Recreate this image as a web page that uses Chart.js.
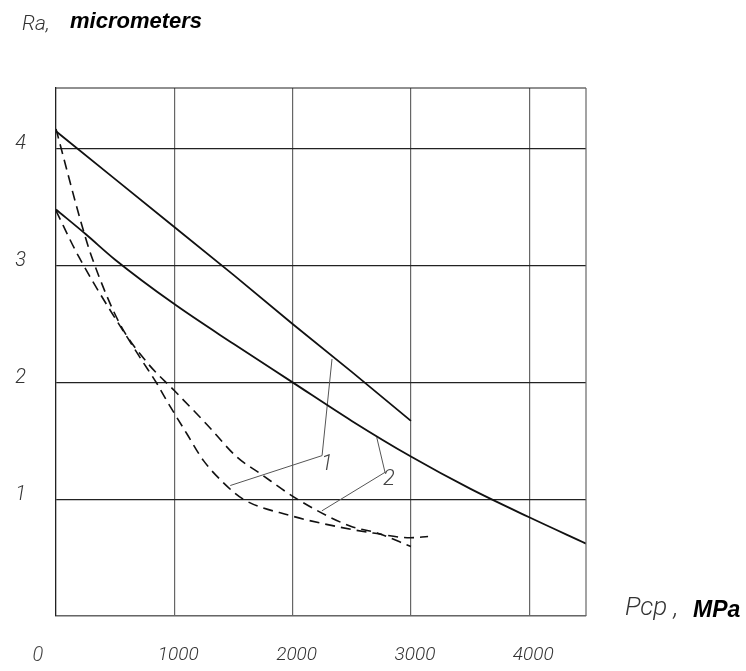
<!DOCTYPE html>
<html><head><meta charset="utf-8">
<script src="https://cdn.jsdelivr.net/npm/chart.js@4"></script>
<style>html,body{margin:0;padding:0;background:#fff}</style>
</head><body>
<canvas id="c" width="746" height="671"></canvas>
<script>
// ---- data ----
const xTickValues = [0, 1000, 2000, 3000, 4000];
const yTickValues = [1, 2, 3, 4];
const xMax = 4480, yMax = 4.52;

const solid1X = [0, 500, 1000, 1500, 2000, 2500, 3000];
const solid1Y = [4.15, 3.74, 3.33, 2.92, 2.50, 2.09, 1.67];

const solid2X = [0, 250, 500, 1000, 1500, 2000, 2500, 3000, 3500, 4000, 4480];
const solid2Y = [3.48, 3.27, 3.05, 2.67, 2.33, 2.00, 1.67, 1.365, 1.09, 0.845, 0.62];

const dash1X = [0, 220, 300, 540, 770, 1000, 1275, 1530, 1725, 2040, 2485, 2715, 3000];
const dash1Y = [4.17, 3.34, 3.08, 2.50, 2.17, 1.93, 1.64, 1.36, 1.22, 1.00, 0.77, 0.71, 0.595];

const dash2X = [0, 190, 712, 853, 938, 1106, 1247, 1416, 1582, 1980, 2402, 2681, 2993, 3145];
const dash2Y = [3.47, 3.08, 2.21, 1.99, 1.84, 1.56, 1.33, 1.14, 1.00, 0.86, 0.76, 0.71, 0.67, 0.68];

const leader1X = [2333, 2249, 1473];
const leader1Y = [2.20, 1.373, 1.117];
const leader2X = [2711, 2781, 2247];
const leader2Y = [1.53, 1.23, 0.90];

const curveLabels = ['1', '2'];
const curveLabelX = [2291, 2815];
const curveLabelY = [1.30, 1.172];

const yTitleParts = ['Ra,', 'micrometers'];
const xTitleParts = ['Pcp ,', 'MPa'];
const originLabel = '0';

// ---- helpers ----
const pts = (xs, ys) => xs.map((x, i) => ({x: x, y: ys[i]}));
const thinFamily = "Roboto,'DejaVu Sans Condensed',sans-serif";
const boldFamily = "'Liberation Sans',Arial,sans-serif";

const decor = {
  id: 'decor',
  afterDraw(chart) {
    const ctx = chart.ctx, a = chart.chartArea;
    const xs = chart.scales.x, ys = chart.scales.y;
    ctx.save();
    // top and right frame edges
    ctx.lineWidth = 1.2;
    ctx.strokeStyle = '#222';
    ctx.beginPath();
    ctx.moveTo(a.left, a.top); ctx.lineTo(a.right, a.top);
    ctx.stroke();
    ctx.strokeStyle = '#666';
    ctx.beginPath();
    ctx.moveTo(a.right, a.top); ctx.lineTo(a.right, a.bottom);
    ctx.stroke();

    // curve number labels
    ctx.fillStyle = '#444';
    ctx.font = "italic 300 22px " + thinFamily;
    ctx.textAlign = 'center';
    ctx.textBaseline = 'middle';
    curveLabels.forEach((t, i) => {
      ctx.fillText(t, xs.getPixelForValue(curveLabelX[i]), ys.getPixelForValue(curveLabelY[i]));
    });

    // origin label
    ctx.font = "italic 300 20px " + thinFamily;
    ctx.fillText(originLabel, xs.getPixelForValue(0) - 18, a.bottom + 40);

    // y axis title
    ctx.textAlign = 'left';
    ctx.textBaseline = 'alphabetic';
    ctx.fillStyle = '#333';
    ctx.font = "italic 300 21px " + thinFamily;
    ctx.fillText(yTitleParts[0], a.left - 34, a.top - 58);
    ctx.fillStyle = '#000';
    ctx.font = "italic bold 22px " + boldFamily;
    ctx.fillText(yTitleParts[1], a.left + 14, a.top - 60);

    // x axis title
    ctx.fillStyle = '#333';
    ctx.font = "italic 300 26px " + thinFamily;
    ctx.fillText(xTitleParts[0], a.right + 39, a.bottom - 1);
    ctx.fillStyle = '#000';
    ctx.font = "italic bold 23px " + boldFamily;
    ctx.fillText(xTitleParts[1], a.right + 107, a.bottom + 1);
    ctx.restore();
  }
};

const lineDs = (label, data, opts) => Object.assign({
  label: label, data: data, showLine: true, pointRadius: 0, fill: false,
  borderColor: '#111', borderWidth: 1.8, cubicInterpolationMode: 'monotone'
}, opts || {});

new Chart(document.getElementById('c'), {
  type: 'scatter',
  data: {
    datasets: [
      lineDs('1 solid', pts(solid1X, solid1Y), {cubicInterpolationMode: 'default', tension: 0}),
      lineDs('2 solid', pts(solid2X, solid2Y)),
      lineDs('2 dashed', pts(dash1X, dash1Y), {borderDash: [10, 6], borderWidth: 1.6}),
      lineDs('1 dashed', pts(dash2X, dash2Y), {borderDash: [10, 6], borderWidth: 1.6}),
      lineDs('leader 1', pts(leader1X, leader1Y), {borderColor: '#555', borderWidth: 1, cubicInterpolationMode: 'default', tension: 0}),
      lineDs('leader 2', pts(leader2X, leader2Y), {borderColor: '#555', borderWidth: 1, cubicInterpolationMode: 'default', tension: 0})
    ]
  },
  options: {
    responsive: false,
    devicePixelRatio: 1,
    animation: false,
    layout: {padding: {left: 0, right: 160, top: 88, bottom: 0}},
    plugins: {legend: {display: false}, tooltip: {enabled: false}},
    scales: {
      x: {
        type: 'linear', min: 0, max: xMax,
        afterFit: s => { s.height = 55; },
        afterBuildTicks: s => { s.ticks = xTickValues.map(v => ({value: v})); },
        grid: {color: '#666', lineWidth: 1.2, drawTicks: false},
        border: {color: '#666', width: 1.2},
        ticks: {
          includeBounds: false, padding: 28, labelOffset: 4, maxRotation: 0,
          color: '#333',
          font: {family: thinFamily, size: 19, style: 'italic', weight: 300},
          callback: v => (v === 0 ? '' : String(v))
        }
      },
      y: {
        type: 'linear', min: 0, max: yMax,
        afterFit: s => { s.width = 56; },
        afterBuildTicks: s => { s.ticks = [0].concat(yTickValues).map(v => ({value: v})); },
        grid: {color: '#222', lineWidth: 1.2, drawTicks: false},
        border: {color: '#222', width: 1.2},
        ticks: {
          includeBounds: false, padding: 30, labelOffset: -4.5,
          color: '#333',
          font: {family: thinFamily, size: 20, style: 'italic', weight: 300},
          callback: v => (v === 0 ? '' : String(v))
        }
      }
    }
  },
  plugins: [decor]
});
</script>
</body></html>
